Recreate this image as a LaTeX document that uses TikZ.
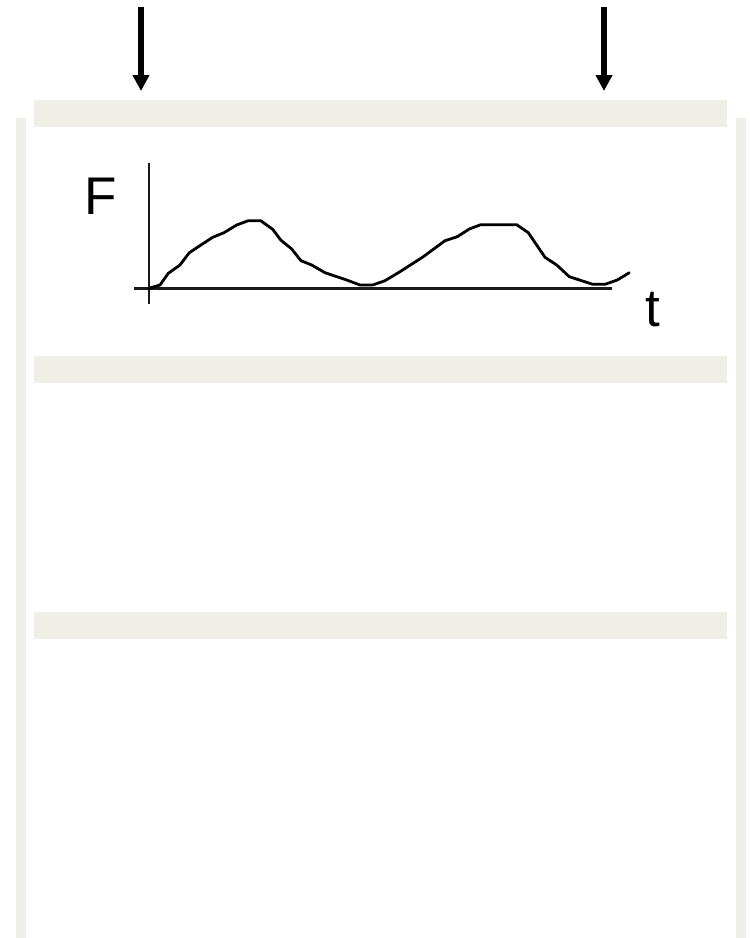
\documentclass[tikz,border=0pt]{standalone}
\usepackage{fontspec}
\setmainfont{Liberation Sans}
\usetikzlibrary{arrows.meta}
\definecolor{barfill}{RGB}{239,239,231}
\begin{document}
\begin{tikzpicture}[x=1pt,y=-1pt]
\tikzset{
  bar/.style={rectangle, fill=barfill, draw=none, inner sep=0pt, outer sep=0pt},
  hbar/.style={bar, minimum width=693pt, minimum height=27pt},
  vbar/.style={bar, minimum width=10pt, minimum height=820pt},
  downarrow/.style={line width=5.2pt, -{Triangle[width=16pt,length=16pt]}},
  axis/.style={line width=2.8pt, color=black!90},
  curve/.style={line width=2.8pt, line join=round, line cap=round},
  lbl/.style={inner sep=0pt, font=\fontsize{53}{60}\selectfont}
}
\useasboundingbox (0,0) rectangle (750,938);
\fill[white] (0,0) rectangle (750,938);
% bars
\node[hbar] (bar1) at (380.5,113) {};
\node[hbar] (bar2) at (380.5,369) {};
\node[hbar] (bar3) at (380.5,625) {};
\node[vbar] (lbar) at (21,528) {};
\node[vbar] (rbar) at (741,528) {};
% arrows
\coordinate (a1s) at (141,7);
\coordinate (a2s) at (604,7);
\coordinate (a1e) at (141,91);
\coordinate (a2e) at (604,91);
\draw[downarrow] (a1s) -- (a1e);
\draw[downarrow] (a2s) -- (a2e);
% axes
\coordinate (ytop) at (149,162.5);
\coordinate (ybot) at (149,303.5);
\coordinate (xl) at (134,288.5);
\coordinate (xr) at (612,288.5);
\draw[axis] (ytop) -- (ybot);
\draw[axis] (xl) -- (xr);
% labels
\node[lbl, anchor=base west] (F) at (84,214.3) {F};
\node[lbl, anchor=base west] (t) at (645,326) {t};
% curve
\draw[curve] (149,288.3) -- (160,285) -- (168.3,273.3) -- (180,265) -- (189.3,252.7)
 -- (198.3,246.7) -- (212.7,237.3) -- (224,232.7) -- (236.7,225) -- (248.3,220.7)
 -- (260.7,220.7) -- (272.7,229.3) -- (280.7,240) -- (291.7,249) -- (301,260.7)
 -- (311.7,265) -- (325,272.7) -- (346.7,280) -- (360,285) -- (372.7,285)
 -- (385,280.7) -- (400,271.7) -- (423.3,256.7) -- (445,240.7) -- (457.3,236.7)
 -- (469.3,229) -- (480.7,224.7) -- (516.7,224.7) -- (528.3,232.7) -- (545,257.3)
 -- (556.7,265) -- (569.3,276.7) -- (592.7,284.3) -- (605,284.3) -- (617.3,280)
 -- (629.3,272.7);
\end{tikzpicture}
\end{document}
